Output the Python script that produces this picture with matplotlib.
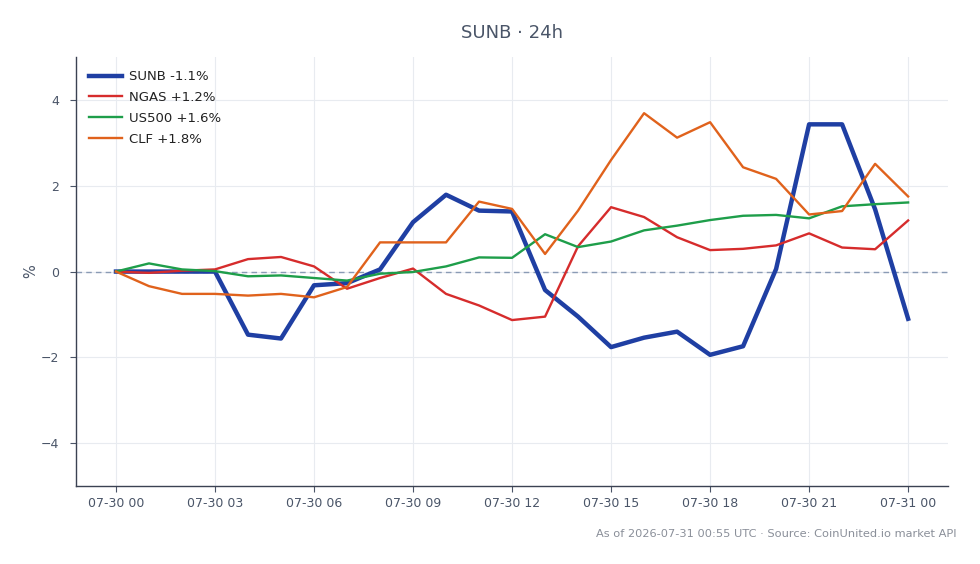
import numpy as np
import pandas as pd
import matplotlib
matplotlib.use("Agg")
import matplotlib.pyplot as plt
import matplotlib.dates as mdates

# Hourly % change over 24h
times = pd.date_range("2026-07-30 00:00", "2026-07-31 00:00", freq="h")

sunb = [0.0, 0.0, 0.0, 0.0, -1.47, -1.56, -0.32, -0.27, 0.05, 1.15, 1.79, 1.42, 1.40,
        -0.43, -1.05, -1.76, -1.54, -1.40, -1.94, -1.74, 0.06, 3.43, 3.43, 1.45, -1.1]
ngas = [0.0, -0.03, 0.02, 0.05, 0.29, 0.34, 0.12, -0.40, -0.15, 0.07, -0.52, -0.79, -1.13,
        -1.05, 0.59, 1.50, 1.27, 0.80, 0.50, 0.53, 0.61, 0.89, 0.56, 0.52, 1.19]
us500 = [0.0, 0.19, 0.05, 0.01, -0.11, -0.09, -0.15, -0.21, -0.05, -0.01, 0.12, 0.33, 0.32,
         0.87, 0.57, 0.70, 0.96, 1.07, 1.20, 1.30, 1.32, 1.24, 1.52, 1.57, 1.61]
clf = [0.0, -0.34, -0.52, -0.52, -0.56, -0.52, -0.60, -0.36, 0.68, 0.68, 0.68, 1.63, 1.46,
       0.41, 1.42, 2.60, 3.69, 3.12, 3.48, 2.43, 2.16, 1.33, 1.41, 2.51, 1.75]

labels = ["SUNB -1.1%", "NGAS +1.2%", "US500 +1.6%", "CLF +1.8%"]
colors = ["#1f3fa3", "#d62c2c", "#1e9e4a", "#e0621c"]
widths = [3.2, 1.7, 1.7, 1.7]
series = [sunb, ngas, us500, clf]

text_col = "#4a5568"

fig = plt.figure(figsize=(9.8, 5.64), dpi=100)
ax = fig.add_axes([0.0776, 0.138, 0.8898, 0.761])

for vals, lab, c, w in zip(series, labels, colors, widths):
    ax.plot(times, vals, color=c, lw=w, label=lab, zorder=3)

ax.axhline(0, color="#8a9bb5", lw=1, ls=(0, (4, 3)), zorder=2)

ax.set_ylim(-5, 5)
ax.set_yticks([-4, -2, 0, 2, 4])
ax.set_yticklabels(["\u22124", "\u22122", "0", "2", "4"])
pad = pd.Timedelta(hours=1.21)
ax.set_xlim(times[0] - pad, times[-1] + pad)
ax.xaxis.set_major_locator(mdates.HourLocator(byhour=range(0, 24, 3)))
ax.xaxis.set_major_formatter(mdates.DateFormatter("%m-%d %H"))

ax.grid(True, color="#e8ebf0", lw=0.8, zorder=0)
ax.set_axisbelow(True)
for s in ["top", "right"]:
    ax.spines[s].set_visible(False)
for s in ["left", "bottom"]:
    ax.spines[s].set_color("#3b4252")
    ax.spines[s].set_linewidth(1.0)
ax.tick_params(colors=text_col, labelsize=9, length=4)
ax.tick_params(axis="y", pad=8)
ax.tick_params(axis="x", pad=4)

ax.set_ylabel("%", color=text_col, fontsize=10.5, labelpad=2)
ax.set_title("SUNB \u00b7 24h", color=text_col, fontsize=13, pad=14)

leg = ax.legend(loc="upper left", frameon=False, fontsize=9.5, handlelength=2.5,
                handletextpad=0.5, borderaxespad=0.6, labelspacing=0.6)
for t in leg.get_texts():
    t.set_color("#222222")

fig.text(0.976, 0.053, "As of 2026-07-31 00:55 UTC \u00b7 Source: CoinUnited.io market API",
         ha="right", va="center", fontsize=8.2, color="#8a8f99")

fig.savefig("out.png", dpi=100)
